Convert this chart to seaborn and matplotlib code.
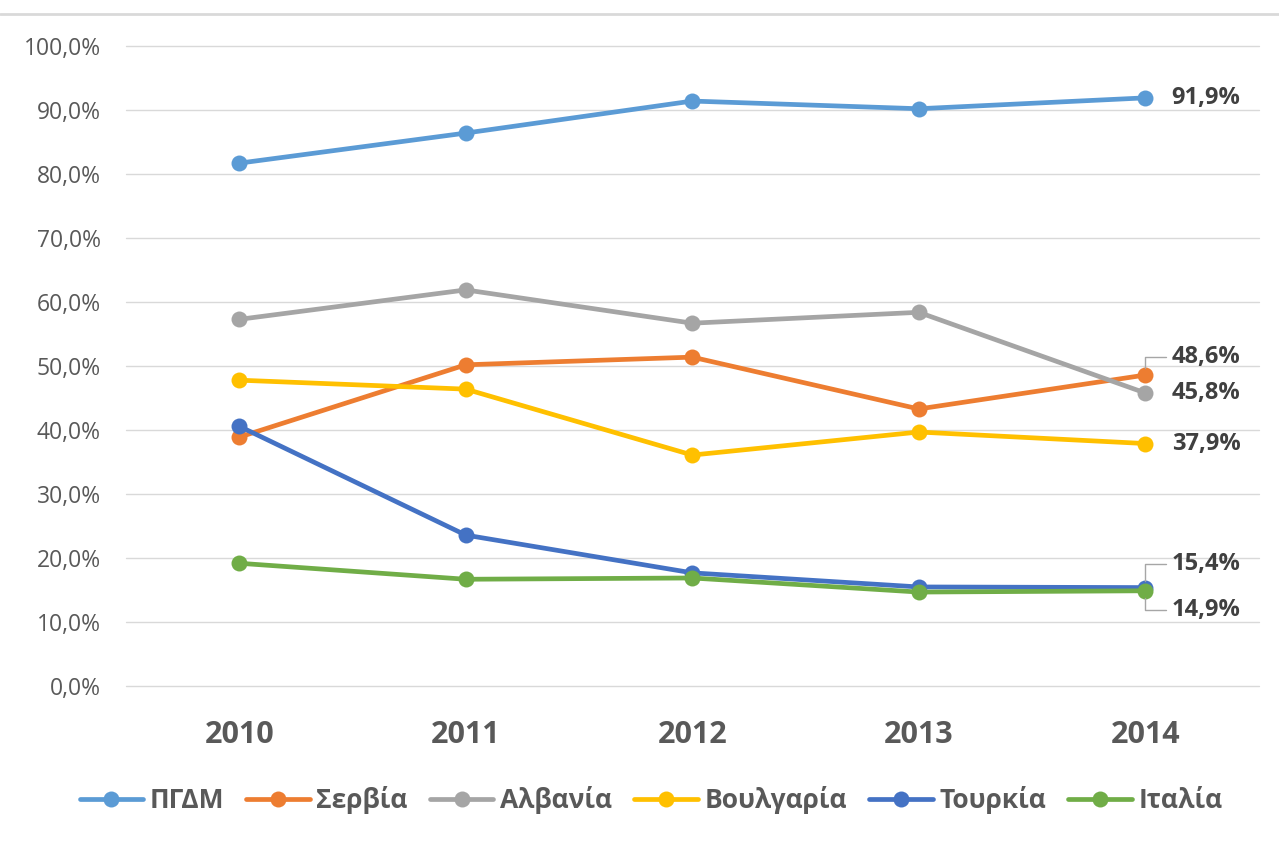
import pandas as pd
import matplotlib.pyplot as plt
import seaborn as sns
from matplotlib.lines import Line2D
from matplotlib.ticker import FuncFormatter

years = [2010, 2011, 2012, 2013, 2014]
countries = ["ΠΓΔΜ", "Σερβία", "Αλβανία", "Βουλγαρία", "Τουρκία", "Ιταλία"]
pgdm = [81.7, 86.4, 91.4, 90.2, 91.9]
serbia = [38.9, 50.2, 51.4, 43.3, 48.6]
albania = [57.3, 61.9, 56.7, 58.4, 45.8]
bulgaria = [47.8, 46.4, 36.1, 39.7, 37.9]
turkey = [40.6, 23.6, 17.7, 15.5, 15.4]
italy = [19.2, 16.7, 16.9, 14.7, 14.9]
colors = ["#5B9BD5", "#ED7D31", "#A5A5A5", "#FFC000", "#4472C4", "#70AD47"]

series = [pgdm, serbia, albania, bulgaria, turkey, italy]
df = pd.DataFrame([(c, y, v) for c, vals in zip(countries, series) for y, v in zip(years, vals)],
                  columns=["country", "year", "value"])

sns.set_style("white")
plt.rcParams['font.family'] = ['Open Sans', 'DejaVu Sans']

fig = plt.figure(figsize=(12.79, 8.44), dpi=100)
ax = fig.add_axes([0.0985, 0.187, 0.8855, 0.7585])

# gridlines (incl. the zero line)
for v in range(0, 101, 10):
    ax.axhline(v, color="#D9D9D9", linewidth=1, zorder=0, clip_on=False)

sns.lineplot(data=df, x="year", y="value", hue="country", hue_order=countries,
             palette=colors, marker="o", markersize=11.5, markeredgewidth=0,
             linewidth=3.4, ax=ax, legend=False)

ax.set_xlim(2009.5, 2014.5)
ax.set_ylim(0, 100)
ax.set_yticks(range(0, 101, 10))
ax.yaxis.set_major_formatter(FuncFormatter(lambda v, p: f"{v:.1f}%".replace(".", ",")))
ax.set_xticks(years)
ax.set_xticklabels([str(y) for y in years], fontsize=22, fontweight="bold", color="#595959")
ax.tick_params(axis="y", labelsize=16.5, labelcolor="#595959", length=0, pad=18)
ax.tick_params(axis="x", length=0, pad=24)
for s in ax.spines.values():
    s.set_visible(False)
ax.set_xlabel("")
ax.set_ylabel("")

# data labels for 2014
lab_kw = dict(fontsize=17, fontweight="bold", color="#404040", va="center")
leader = dict(arrowstyle="-", color="#A6A6A6", lw=1,
              connectionstyle="angle,angleA=0,angleB=90,rad=0", shrinkA=2, shrinkB=5)
ax.annotate("91,9%", (2014, pgdm[-1]), xytext=(19, 0), textcoords="offset points", **lab_kw)
ax.annotate("45,8%", (2014, albania[-1]), xytext=(19, 0), textcoords="offset points", **lab_kw)
ax.annotate("37,9%", (2014, bulgaria[-1]), xytext=(19, 0), textcoords="offset points", **lab_kw)
ax.annotate("48,6%", (2014, serbia[-1]), xytext=(19, 13), textcoords="offset points",
            arrowprops=leader, **lab_kw)
ax.annotate("15,4%", (2014, turkey[-1]), xytext=(19, 17), textcoords="offset points",
            arrowprops=leader, **lab_kw)
ax.annotate("14,9%", (2014, italy[-1]), xytext=(19, -14), textcoords="offset points",
            arrowprops=leader, **lab_kw)

# legend
handles = [Line2D([], [], color=c, marker="o", markersize=11.5, linewidth=3.4, markeredgewidth=0)
           for c in colors]
leg = fig.legend(handles, countries, loc="center", bbox_to_anchor=(0.509, 0.052), ncol=6,
                 frameon=False, handlelength=2.4, handletextpad=0.25, columnspacing=0.85,
                 prop=dict(family="Open Sans", size=19, weight="bold"))
for t in leg.get_texts():
    t.set_color("#595959")

# top border
fig.add_artist(Line2D([0, 1], [0.984, 0.984], transform=fig.transFigure, color="#D9D9D9", lw=2))

fig.savefig("out.png", dpi=100)
